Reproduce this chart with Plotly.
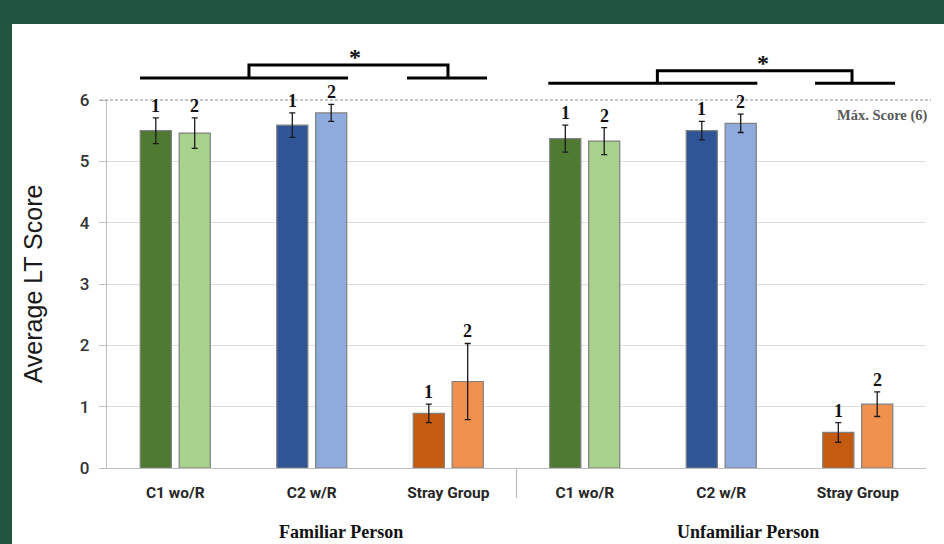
import plotly.graph_objects as go

# ---------------- data ----------------
categories = ["C1 wo/R", "C2 w/R", "Stray Group", "C1 wo/R", "C2 w/R", "Stray Group"]
group_names = ["Familiar Person", "Unfamiliar Person"]
series_names = ["1", "2"]
means_1 = [5.50, 5.59, 0.89, 5.37, 5.50, 0.58]
means_2 = [5.46, 5.79, 1.41, 5.33, 5.62, 1.04]
err_1 = [0.21, 0.20, 0.15, 0.22, 0.15, 0.16]
err_2 = [0.25, 0.14, 0.62, 0.22, 0.15, 0.20]
y_ticks = [0, 1, 2, 3, 4, 5, 6]
max_score = 6
max_label = "Máx. Score (6)"
sig_label = "*"

# ---------------- style ----------------
colors_1 = ["#4E7A32", "#2F5597", "#C55A11"] * 2
colors_2 = ["#A9D18E", "#8FAADC", "#F0914F"] * 2
BG_GREEN = "#225540"
BARGAP = 0.43
W, H = 944, 544
L, R, T, B = 107, 18, 100, 76
plot_w = W - L - R
plot_h = H - T - B


def py(pix):  # pixel row -> paper y
    return (H - B - pix) / plot_h


def px(pix):  # pixel column -> paper x
    return (pix - L) / plot_w


x_pos = list(range(len(categories)))

fig = go.Figure()
for name, vals, errs, cols in [
    (series_names[0], means_1, err_1, colors_1),
    (series_names[1], means_2, err_2, colors_2),
]:
    fig.add_trace(go.Bar(
        name=name, x=x_pos, y=vals,
        marker=dict(color=cols, line=dict(color="#7F7F7F", width=1.2)),
        error_y=dict(type="data", array=errs, visible=True,
                     color="#1A1A1A", thickness=1.3, width=3),
        showlegend=False,
    ))

annotations = []
off = (1 - BARGAP) / 4
for i in x_pos:
    for sign, name, vals, errs in [(-1, series_names[0], means_1, err_1),
                                   (1, series_names[1], means_2, err_2)]:
        annotations.append(dict(
            x=i + sign * off, y=vals[i] + errs[i], xref="x", yref="y",
            text=name, showarrow=False, yanchor="bottom", yshift=0,
            font=dict(family="Liberation Serif", size=18, color="#111111", weight="bold"),
        ))

# group labels
for gx, g in zip([1.214, 4.196], group_names):
    annotations.append(dict(
        x=gx, y=py(532), xref="x", yref="paper", text=g, showarrow=False,
        yanchor="middle", xanchor="center",
        font=dict(family="Liberation Serif", size=18, color="#111111", weight="bold"),
    ))

# max score label
annotations.append(dict(
    x=px(929), y=py(115), xref="paper", yref="paper", text=max_label,
    showarrow=False, xanchor="right", yanchor="middle",
    font=dict(family="Liberation Serif", size=14.5, color="#595959", weight="bold"),
))

shapes = [
    # white panel
    dict(type="rect", xref="paper", yref="paper", layer="below",
         x0=px(12), x1=px(W + 5), y0=py(H + 5), y1=py(24),
         fillcolor="white", line=dict(width=0)),
    # max score dashed line
    dict(type="line", xref="paper", yref="paper", x0=px(100), x1=px(931),
         y0=1, y1=1, line=dict(color="#8C8C8C", width=1, dash="3px,2px")),
    # group separator
    dict(type="line", xref="x", yref="paper", x0=2.5, x1=2.5,
         y0=0, y1=py(498), line=dict(color="#BFBFBF", width=1.2)),
]

# significance brackets: (long line, short line, bracket x, base y px, top y px, star x)
brackets = [
    ((-0.258, 1.266), (1.698, 2.284), (0.540, 1.998), 78, 65, 1.317),
    ((2.733, 4.264), (4.687, 5.273), (3.532, 4.958), 83.3, 70.7, 4.304),
]
bl = dict(color="black", width=3)
for long_l, short_l, br, ybase, ytop, sx in brackets:
    shapes.append(dict(type="line", xref="x", yref="paper", x0=long_l[0], x1=long_l[1],
                       y0=py(ybase), y1=py(ybase), line=bl))
    shapes.append(dict(type="line", xref="x", yref="paper", x0=short_l[0], x1=short_l[1],
                       y0=py(ybase), y1=py(ybase), line=bl))
    shapes.append(dict(type="path", xref="x", yref="paper",
                       path=f"M {br[0]} {py(ybase)} L {br[0]} {py(ytop)} L {br[1]} {py(ytop)} L {br[1]} {py(ybase)}",
                       line=bl))
    annotations.append(dict(
        x=sx, y=py(ytop + 7), xref="x", yref="paper", text=sig_label, showarrow=False,
        yanchor="bottom", xanchor="center",
        font=dict(family="Liberation Serif", size=24, color="#111111", weight="bold"),
    ))

fig.update_layout(
    width=W, height=H,
    margin=dict(l=L, r=R, t=T, b=B, pad=0),
    paper_bgcolor=BG_GREEN, plot_bgcolor="rgba(0,0,0,0)",
    barmode="group", bargap=BARGAP, bargroupgap=0.2,
    annotations=annotations, shapes=shapes,
    xaxis=dict(range=[-0.5, len(categories) - 0.5], tickvals=x_pos, ticktext=categories,
               showgrid=False, zeroline=False, showline=True, linecolor="#BFBFBF",
               linewidth=1.2, ticks="", ticklabelstandoff=10,
               tickfont=dict(family="Roboto", size=15.5, color="#262626", weight="bold")),
    yaxis=dict(range=[0, max_score], tickvals=y_ticks, showgrid=True, gridcolor="#DCDCDC",
               zeroline=False, showline=True, linecolor="#BFBFBF", linewidth=1.2,
               ticks="outside", ticklen=7, tickcolor="#BFBFBF", ticklabelstandoff=6,
               tickfont=dict(family="Roboto", size=17, color="#333333", weight=500),
               title=dict(text="Average LT Score", standoff=30,
                          font=dict(family="Liberation Sans", size=25, color="#1A1A1A"))),
)

fig.write_html("out.html", config={"displayModeBar": False},
               post_script="document.body.style.margin='0';document.body.style.overflow='hidden';")
